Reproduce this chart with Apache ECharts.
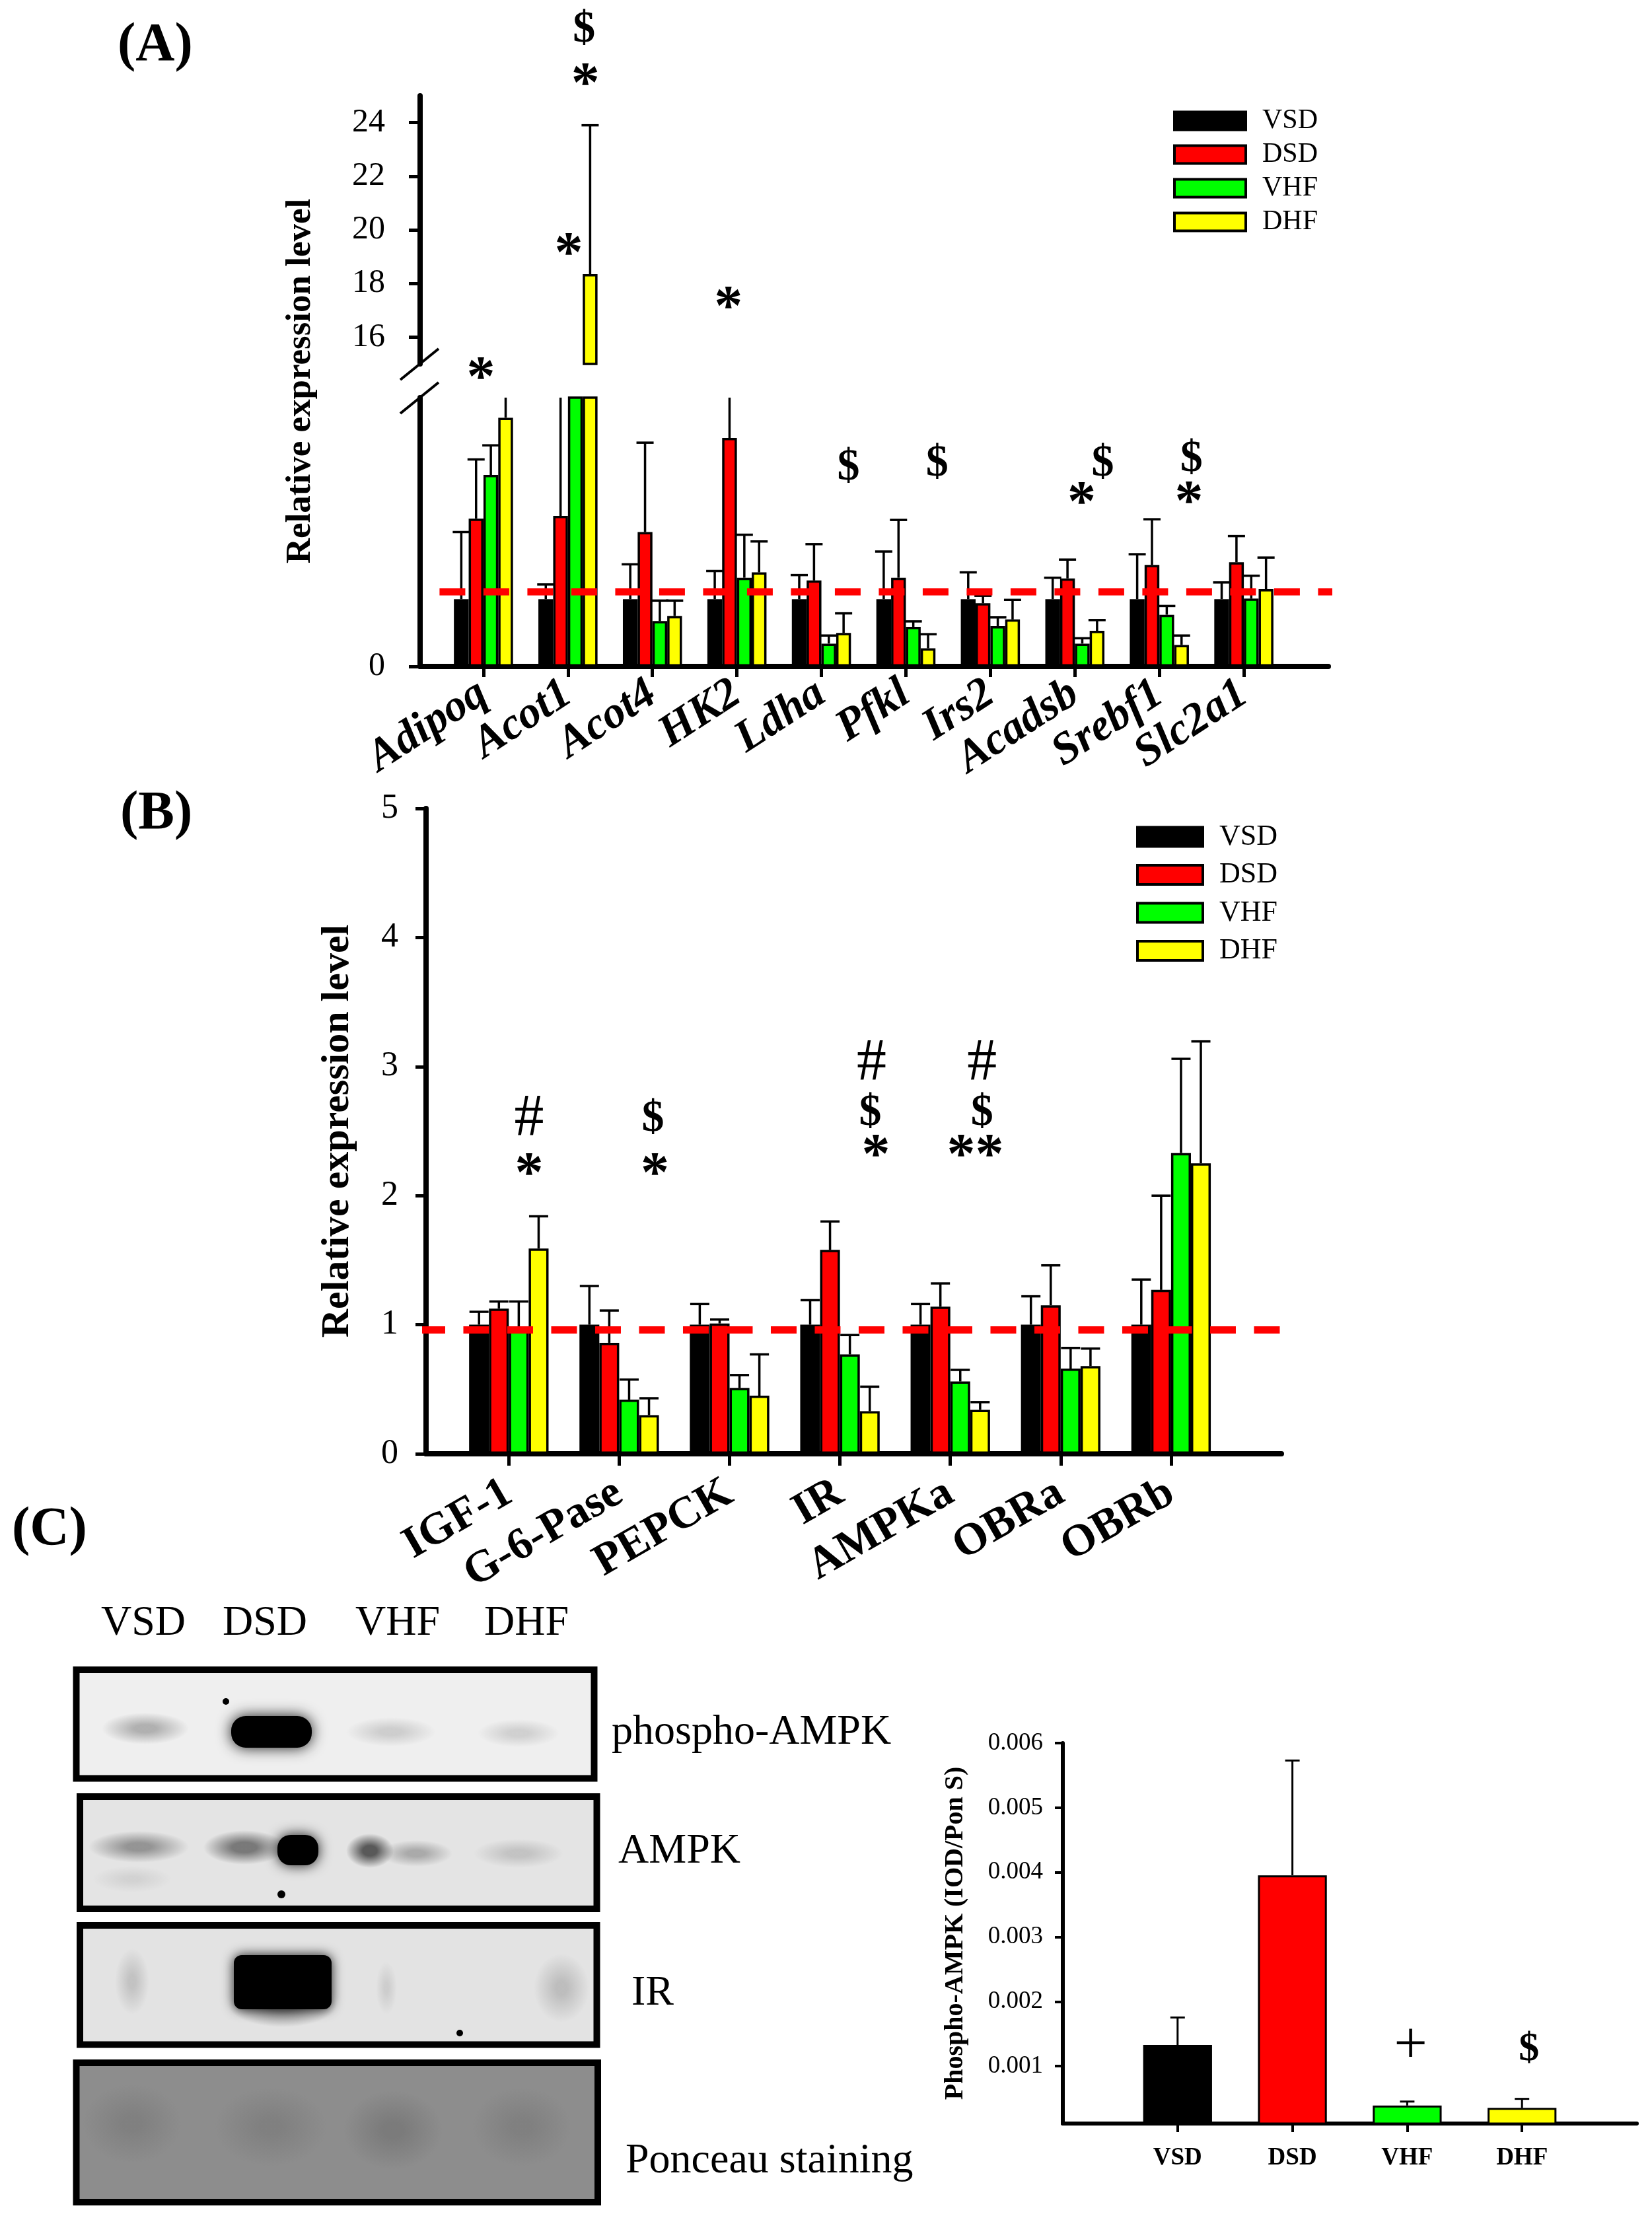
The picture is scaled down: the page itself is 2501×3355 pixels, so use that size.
<!DOCTYPE html>
<html><head><meta charset="utf-8">
<script src="https://cdn.jsdelivr.net/npm/echarts@6/dist/echarts.min.js"></script>
<style>html,body{margin:0;padding:0;background:#fff}#c{width:2501px;height:3355px}</style>
</head><body><div id="c"></div><script>
const SERIF = '"Liberation Serif", "Times New Roman", serif';
const seriesNames = ['VSD', 'DSD', 'VHF', 'DHF'];
const seriesColors = ['#000000', '#ff0000', '#00ff00', '#ffff00'];

// ---------- Panel A ----------
const catA = ['Adipoq', 'Acot1', 'Acot4', 'HK2', 'Ldha', 'Pfkl', 'Irs2', 'Acadsb', 'Srebf1', 'Slc2a1'];
const aVSD = [1.0, 1.0, 1.0, 1.0, 1.0, 1.0, 1.0, 1.0, 1.0, 1.0];
const aVSDTop = [2.0, 1.22, 1.52, 1.42, 1.36, 1.71, 1.40, 1.32, 1.67, 1.25];
const aDSD = [2.2, 2.24, 2.0, 3.40, 1.28, 1.32, 0.94, 1.31, 1.51, 1.55];
const aDSDTop = [3.08, 5.0, 3.33, 4.8, 1.82, 2.18, 1.05, 1.59, 2.19, 1.94];
const aVHF = [2.85, 8.0, 0.675, 1.32, 0.34, 0.59, 0.60, 0.34, 0.77, 1.01];
const aVHFTop = [3.29, 9.5, 0.98, 1.96, 0.46, 0.67, 0.73, 0.42, 0.90, 1.35];
const aDHF = [3.70, 18.35, 0.75, 1.40, 0.50, 0.27, 0.70, 0.53, 0.32, 1.15];
const aDHFTop = [4.6, 23.9, 0.98, 1.86, 0.79, 0.48, 0.99, 0.69, 0.46, 1.62];
const aUpperRange = [15, 25];
const aUpperTicks = [16, 18, 20, 22, 24];
const aLowerRange = [0, 4];
const aLowerTicks = [0];
const aRefLine = { y: 1.11, from: 0.48, to: 11.37 };
const annA_upper = [[2.19, 27.44, '$'], [2.207, 25.65, '*'], [2.01, 19.31, '*'], [3.90, 17.32, '*']];
const annA_lower = [[0.969, 4.38, '*'], [5.32, 2.95, '$'], [6.37, 3.01, '$'], [8.08, 2.52, '*'],
  [8.33, 3.01, '$'], [9.38, 3.08, '$'], [9.35, 2.53, '*']];

// ---------- Panel B ----------
const catB = ['IGF-1', 'G-6-Pase', 'PEPCK', 'IR', 'AMPKa', 'OBRa', 'OBRb'];
const bVSD = [1, 1, 1, 1, 1, 1, 1];
const bVSDTop = [1.10, 1.30, 1.16, 1.19, 1.16, 1.22, 1.35];
const bDSD = [1.125, 0.86, 1.01, 1.58, 1.14, 1.15, 1.27];
const bDSDTop = [1.18, 1.11, 1.04, 1.80, 1.32, 1.46, 2.00];
const bVHF = [0.95, 0.42, 0.51, 0.77, 0.56, 0.66, 2.33];
const bVHFTop = [1.18, 0.575, 0.61, 0.92, 0.65, 0.82, 3.06];
const bDHF = [1.59, 0.30, 0.45, 0.33, 0.34, 0.68, 2.25];
const bDHFTop = [1.84, 0.43, 0.77, 0.52, 0.40, 0.815, 3.195];
const bRefLine = { y: 0.96, from: 0.19, to: 8.41 };
const annB = [[1.184, 2.59, '#'], [1.184, 2.21, '*'], [2.305, 2.59, '$'], [2.323, 2.21, '*'],
  [4.287, 3.02, '#'], [4.275, 2.64, '$'], [4.326, 2.355, '*'],
  [5.287, 3.02, '#'], [5.287, 2.64, '$'], [5.226, 2.355, '**']];

// ---------- Panel C ----------
const catC = ['VSD', 'DSD', 'VHF', 'DHF'];
const cMean = [0.001328, 0.003953, 0.00039, 0.000354];
const cTop = [0.001753, 0.00573, 0.000452, 0.000494];
const cTicks = [0.001, 0.002, 0.003, 0.004, 0.005, 0.006];
const annC = [[3.03, 0.00129, '+'], [4.06, 0.00126, '$']];
const blotRows = ['phospho-AMPK', 'AMPK', 'IR', 'Ponceau staining'];

// ---------- helpers ----------
function barSeries(name, color, vals, xi, yi, gap) {
  return {
    type: 'bar', name: name, xAxisIndex: xi, yAxisIndex: yi,
    data: vals.map((v, i) => [i + 1, v]),
    barGap: '0%', barCategoryGap: gap,
    itemStyle: { color: color, borderColor: '#000', borderWidth: 3.5 },
    emphasis: { disabled: true }, silent: true, z: 2
  };
}
function errSeries(groups, xi, yi, frac, capPx, lw) {
  const data = [];
  groups.forEach((g, k) => g.vals.forEach((v, i) => data.push([i + 1, v, g.tops[i], k])));
  const n = groups.length;
  return {
    type: 'custom', xAxisIndex: xi, yAxisIndex: yi, clip: true, silent: true, z: 3,
    data: data, encode: { x: 0, y: [1, 2] },
    renderItem: function (params, api) {
      const x = api.value(0), lo = api.value(1), hi = api.value(2), k = api.value(3);
      const bw = frac / n;
      const xc = x + (k - (n - 1) / 2) * bw;
      const p0 = api.coord([xc, lo]), p1 = api.coord([xc, hi]);
      return {
        type: 'group', children: [
          { type: 'line', shape: { x1: p0[0], y1: p0[1], x2: p1[0], y2: p1[1] }, style: { stroke: '#000', lineWidth: lw } },
          { type: 'line', shape: { x1: p1[0] - capPx / 2, y1: p1[1], x2: p1[0] + capPx / 2, y2: p1[1] }, style: { stroke: '#000', lineWidth: lw } }
        ]
      };
    }
  };
}
function refLine(r, xi, yi) {
  return {
    type: 'line', xAxisIndex: xi, yAxisIndex: yi, clip: false, silent: true, z: 4,
    symbol: 'none', data: [[r.from, r.y], [r.to, r.y]],
    lineStyle: { color: '#ff0000', width: 11, type: [39, 27.5] }
  };
}
function annLabel(t, small) {
  const base = { show: true, position: 'inside', color: '#000', opacity: 1, fontFamily: SERIF, formatter: t,
    textBorderWidth: 0 };
  if (t === '*' || t === '**') return Object.assign(base, { fontSize: 86, fontWeight: 'bold', offset: [0, 12] });
  if (t === '$') return Object.assign(base, { fontSize: small ? 62 : 68, fontWeight: 'bold' });
  if (t === '#') return Object.assign(base, { fontSize: 90, fontWeight: 'normal' });
  return Object.assign(base, { fontSize: 90, fontWeight: 'normal' });
}
function annSeries(list, xi, yi, small) {
  return {
    type: 'scatter', xAxisIndex: xi, yAxisIndex: yi, clip: false, silent: true, z: 6,
    symbolSize: 1, itemStyle: { color: 'rgba(255,255,255,0)', opacity: 1 },
    emphasis: { disabled: true },
    data: list.map(a => ({ value: [a[0], a[1]], label: annLabel(a[2], small) }))
  };
}
function slash(xi, yi, pt) {
  return {
    type: 'custom', xAxisIndex: xi, yAxisIndex: yi, clip: false, silent: true, z: 7,
    data: [pt],
    renderItem: function (params, api) {
      const c = api.coord([api.value(0), api.value(1)]);
      return { type: 'line', shape: { x1: c[0] - 30, y1: c[1] + 24, x2: c[0] + 28, y2: c[1] - 23 }, style: { stroke: '#000', lineWidth: 4 } };
    }
  };
}
const range = n => Array.from({ length: n }, (_, i) => i + 1);
const axisLineStyle = w => ({ show: true, onZero: false, lineStyle: { color: '#000', width: w } });
const tickStyle = (vals, len, w) => ({ show: true, customValues: vals, length: len, lineStyle: { color: '#000', width: w } });
const lab = (o) => Object.assign({ color: '#000', fontFamily: SERIF }, o);

const groupsA = [[aVSD, aVSDTop], [aDSD, aDSDTop], [aVHF, aVHFTop], [aDHF, aDHFTop]].map(g => ({ vals: g[0], tops: g[1] }));
const groupsB = [[bVSD, bVSDTop], [bDSD, bDSDTop], [bVHF, bVHFTop], [bDHF, bDHFTop]].map(g => ({ vals: g[0], tops: g[1] }));

const series = [];
[0, 1].forEach(gi => {
  groupsA.forEach((g, k) => series.push(barSeries(seriesNames[k], seriesColors[k], g.vals, gi, gi, '30%')));
  series.push(errSeries(groupsA, gi, gi, 0.7, 26, 3.5));
});
series.push(refLine(aRefLine, 1, 1));
series.push(annSeries(annA_upper, 0, 0));
series.push(annSeries(annA_lower, 1, 1));
series.push(slash(0, 0, [0.25, aUpperRange[0]]));
series.push(slash(1, 1, [0.25, aLowerRange[1]]));
groupsB.forEach((g, k) => series.push(barSeries(seriesNames[k], seriesColors[k], g.vals, 2, 2, '28%')));
series.push(errSeries(groupsB, 2, 2, 0.72, 29, 3.5));
series.push(refLine(bRefLine, 2, 2));
series.push(annSeries(annB, 2, 2));
series.push({
  type: 'bar', name: 'PhosphoAMPK', xAxisIndex: 3, yAxisIndex: 3, barCategoryGap: '40%', silent: true, z: 2,
  data: cMean.map((v, i) => ({ value: [i + 1, v], itemStyle: { color: seriesColors[i] } })),
  itemStyle: { borderColor: '#000', borderWidth: 3 }
});
series.push(errSeries([{ vals: cMean, tops: cTop }], 3, 3, 0.6, 22, 3));
series.push(annSeries(annC, 3, 3, true));

// ---------- blot graphics ----------
function blob(cx, cy, rx, ry, rgb, a, core) {
  return {
    type: 'circle', x: cx, y: cy, scaleX: rx / ry, silent: true,
    shape: { cx: 0, cy: 0, r: ry },
    style: {
      fill: {
        type: 'radial', x: 0.5, y: 0.5, r: 0.5, colorStops: [
          { offset: 0, color: 'rgba(' + rgb + ',' + a + ')' },
          { offset: core, color: 'rgba(' + rgb + ',' + a + ')' },
          { offset: 1, color: 'rgba(' + rgb + ',0)' }]
      }
    }
  };
}
function smear(x, y, w, h, r, blur) {
  return { type: 'rect', shape: { x: x, y: y, width: w, height: h, r: r }, silent: true,
    style: { fill: '#000', shadowBlur: blur, shadowColor: 'rgba(0,0,0,0.9)' } };
}
function box(x, y, w, h, fill) {
  return { type: 'rect', shape: { x: x, y: y, width: w, height: h }, style: { fill: fill, stroke: 'none' }, silent: true };
}
function frame(x, y, w, h) {
  return { type: 'rect', shape: { x: x, y: y, width: w, height: h }, style: { fill: 'none', stroke: '#000', lineWidth: 10 }, silent: true, z: 10 };
}
function txt(x, y, text, font, align) {
  return { type: 'text', x: x, y: y, silent: true, style: { text: text, font: font, fill: '#000', align: align || 'left', verticalAlign: 'middle' } };
}
const F = (w, s) => w + ' ' + s + 'px "Liberation Serif", serif';
const graphics = [
  txt(178, 70, '(A)', F('bold', 82)),
  txt(182, 1233, '(B)', F('bold', 82)),
  txt(18, 2317, '(C)', F('bold', 82)),
  { type: 'text', x: 455, y: 577, rotation: Math.PI / 2, silent: true,
    style: { text: 'Relative expression level', font: F('bold', 53), fill: '#000', align: 'center', verticalAlign: 'middle' } },
  txt(217, 2458, 'VSD', F('normal', 64), 'center'),
  txt(401, 2458, 'DSD', F('normal', 64), 'center'),
  txt(602, 2458, 'VHF', F('normal', 64), 'center'),
  txt(797, 2458, 'DHF', F('normal', 64), 'center'),
  // box 1 phospho-AMPK
  box(115, 2528, 785, 165, '#efefef'),
  blob(220, 2617, 66, 24, '90,90,90', 0.42, 0.25),
  smear(350, 2598, 122, 48, 22, 22),
  blob(592, 2622, 68, 22, '120,120,120', 0.28, 0.25),
  blob(785, 2624, 62, 21, '120,120,120', 0.26, 0.25),
  { type: 'circle', shape: { cx: 342, cy: 2576, r: 5 }, style: { fill: '#000' }, silent: true },
  // box 2 AMPK
  box(121, 2720, 782, 170, '#e4e4e4'),
  blob(210, 2796, 76, 24, '70,70,70', 0.5, 0.25),
  blob(200, 2845, 60, 20, '130,130,130', 0.18, 0.2),
  blob(370, 2797, 62, 26, '50,50,50', 0.6, 0.3),
  smear(420, 2778, 62, 46, 20, 20),
  blob(560, 2802, 36, 26, '30,30,30', 0.7, 0.3),
  blob(630, 2806, 55, 20, '90,90,90', 0.42, 0.25),
  blob(785, 2806, 68, 22, '120,120,120', 0.3, 0.25),
  { type: 'circle', shape: { cx: 426, cy: 2868, r: 6 }, style: { fill: '#000' }, silent: true },
  // box 3 IR
  box(121, 2915, 782, 181, '#e3e3e3'),
  blob(200, 3000, 26, 50, '120,120,120', 0.3, 0.2),
  blob(585, 3010, 16, 40, '140,140,140', 0.25, 0.2),
  blob(850, 3010, 42, 52, '110,110,110', 0.32, 0.2),
  blob(428, 3035, 82, 34, '60,60,60', 0.55, 0.3),
  smear(354, 2960, 148, 82, 12, 18),
  { type: 'circle', shape: { cx: 696, cy: 3078, r: 5 }, style: { fill: '#000' }, silent: true },
  // box 4 Ponceau
  box(115, 3123, 790, 211, '#8d8d8d'),
  blob(200, 3215, 75, 60, '95,95,95', 0.28, 0.2),
  blob(410, 3220, 85, 60, '95,95,95', 0.28, 0.2),
  blob(595, 3225, 75, 60, '85,85,85', 0.32, 0.2),
  blob(790, 3220, 75, 60, '95,95,95', 0.28, 0.2),
  frame(115.5, 2528, 784, 164.5),
  frame(121, 2720, 782.5, 170),
  frame(121, 2915, 782.5, 180.6),
  frame(115.5, 3123, 789.5, 211),
  txt(926, 2623, blotRows[0], F('normal', 64)),
  txt(936, 2803, blotRows[1], F('normal', 64)),
  txt(956, 3018, blotRows[2], F('normal', 64)),
  txt(947, 3272, blotRows[3], F('normal', 64))
];

const legendBase = {
  data: seriesNames, orient: 'vertical', icon: 'rect', selectedMode: false,
  itemStyle: { borderColor: '#000', borderWidth: 4 }
};

const option = {
  animation: false,
  backgroundColor: '#ffffff',
  textStyle: { fontFamily: SERIF },
  grid: [
    { left: 636, top: 145, width: 1375, height: 406, outerBoundsMode: 'none' },
    { left: 636, top: 602, width: 1375, height: 407, outerBoundsMode: 'none' },
    { left: 645, top: 1224, width: 1295, height: 977, outerBoundsMode: 'none' },
    { left: 1609, top: 2639, width: 869, height: 576, outerBoundsMode: 'none' }
  ],
  xAxis: [
    { gridIndex: 0, type: 'value', min: 0.25, max: 11, show: false, splitLine: { show: false } },
    { gridIndex: 1, type: 'value', min: 0.25, max: 11, splitLine: { show: false },
      axisLine: axisLineStyle(8), axisTick: tickStyle(range(10), 16, 5),
      axisLabel: lab({ customValues: range(10), formatter: v => catA[Math.round(v) - 1], rotate: 33, margin: 36,
        fontSize: 68, fontWeight: 'bold', fontStyle: 'italic' }) },
    { gridIndex: 2, type: 'value', min: 0.25, max: 8, splitLine: { show: false },
      axisLine: axisLineStyle(8), axisTick: tickStyle(range(7), 18, 5),
      axisLabel: lab({ customValues: range(7), formatter: v => catB[Math.round(v) - 1], rotate: 30, margin: 55,
        fontSize: 68, fontWeight: 'bold' }) },
    { gridIndex: 3, type: 'value', min: 0, max: 5, splitLine: { show: false },
      axisLine: axisLineStyle(6), axisTick: tickStyle(range(4), 13, 4),
      axisLabel: lab({ customValues: range(4), formatter: v => catC[Math.round(v) - 1], margin: 34,
        fontSize: 37, fontWeight: 'bold' }) }
  ],
  yAxis: [
    { gridIndex: 0, type: 'value', min: aUpperRange[0], max: aUpperRange[1], splitLine: { show: false },
      axisLine: axisLineStyle(8), axisTick: tickStyle(aUpperTicks, 17, 5),
      axisLabel: lab({ customValues: aUpperTicks, margin: 53, fontSize: 50 }) },
    { gridIndex: 1, type: 'value', min: aLowerRange[0], max: aLowerRange[1], splitLine: { show: false },
      axisLine: axisLineStyle(8), axisTick: tickStyle(aLowerTicks, 17, 5),
      axisLabel: lab({ customValues: aLowerTicks, margin: 53, fontSize: 50 }) },
    { gridIndex: 2, type: 'value', min: 0, max: 5, interval: 1, splitLine: { show: false },
      axisLine: axisLineStyle(8), axisTick: { show: true, length: 16, lineStyle: { color: '#000', width: 5 } },
      axisLabel: lab({ margin: 42, fontSize: 52 }),
      name: 'Relative expression level', nameLocation: 'middle', nameGap: 104,
      nameTextStyle: { fontFamily: SERIF, fontWeight: 'bold', fontSize: 60, color: '#000' } },
    { gridIndex: 3, type: 'value', min: 0.000112, max: 0.006, splitLine: { show: false },
      axisLine: axisLineStyle(6), axisTick: tickStyle(cTicks, 12, 4),
      axisLabel: lab({ customValues: cTicks, formatter: v => v.toFixed(3), margin: 30, fontSize: 37 }),
      name: 'Phospho-AMPK (IOD/Pon S)', nameLocation: 'middle', nameGap: 142,
      nameTextStyle: { fontFamily: SERIF, fontWeight: 'bold', fontSize: 40, color: '#000' } }
  ],
  legend: [
    Object.assign({}, legendBase, { left: 1771, top: 157, itemWidth: 108, itemHeight: 27, itemGap: 9,
      textStyle: { fontFamily: SERIF, fontSize: 42, color: '#000', padding: [0, 0, 0, 20] } }),
    Object.assign({}, legendBase, { left: 1715, top: 1240, itemWidth: 99, itemHeight: 29, itemGap: 13.5,
      textStyle: { fontFamily: SERIF, fontSize: 44, color: '#000', padding: [0, 0, 0, 20] } })
  ],
  graphic: graphics,
  series: series
};

const chart = echarts.init(document.getElementById('c'), null, { renderer: 'canvas', width: 2501, height: 3355 });
chart.setOption(option);
</script></body></html>
